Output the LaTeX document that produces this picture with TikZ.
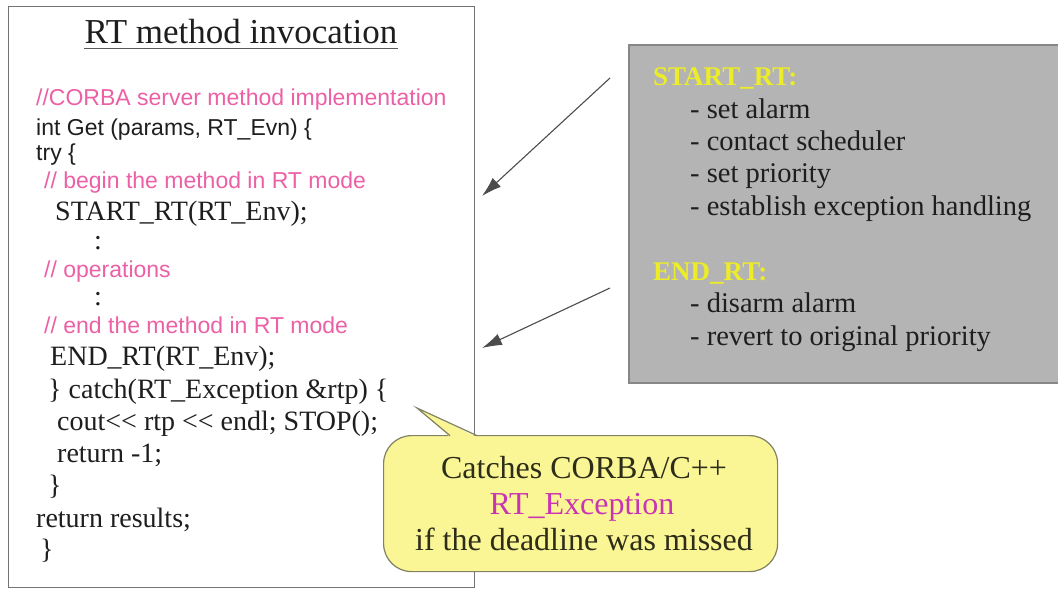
\documentclass[tikz,border=0pt]{standalone}
\usepackage{fontspec}
\setmainfont{Liberation Serif}
\newfontfamily\codesans{Liberation Sans}
\usetikzlibrary{arrows.meta}

\definecolor{cmtpink}{RGB}{236,96,166}
\definecolor{excmag}{RGB}{200,52,178}
\definecolor{headyellow}{RGB}{236,236,40}
\definecolor{panelgray}{RGB}{180,180,180}
\definecolor{panelrule}{RGB}{135,135,135}
\definecolor{bubblefill}{RGB}{250,246,150}
\definecolor{bubblerule}{RGB}{130,130,100}
\definecolor{ink}{RGB}{30,30,30}

\tikzset{
  serifline/.style={anchor=base west, inner sep=0pt, text=ink,
    font=\fontsize{28}{30}\selectfont},
  sansline/.style={anchor=base west, inner sep=0pt, text=ink,
    font=\codesans\fontsize{23}{24}\selectfont},
  cmtline/.style={sansline, text=cmtpink},
  itemline/.style={anchor=base west, inner sep=0pt, text=ink,
    font=\fontsize{28.5}{30}\selectfont},
  headline/.style={anchor=base west, inner sep=0pt, text=headyellow,
    font=\bfseries\fontsize{27}{30}\selectfont},
  bubbletext/.style={anchor=base, inner sep=0pt, text=ink!85!olive,
    font=\fontsize{32}{34}\selectfont},
  ptr/.style={draw=black!70, line width=1.1pt,
    -{Latex[length=20pt,width=12pt]}},
}

\begin{document}
\begin{tikzpicture}[x=1pt,y=-1pt]
\useasboundingbox (0,0) rectangle (1058,590);

% code listing frame
\node[draw=black!55, line width=1.4pt, fill=white, anchor=north west,
      minimum width=466pt, minimum height=581pt, inner sep=0pt] (codebox) at (8,6) {};

% heading
\node[anchor=base, inner sep=0pt, text=ink, font=\fontsize{35}{38}\selectfont]
  (title) at (241,43) {RT method invocation};
\draw[black!65, line width=1.5pt]
  ([yshift=-5.5pt]title.base west) -- ([yshift=-5.5pt]title.base east);

% the listing
\node[cmtline]    (l1)  at (36,105) {//CORBA server method implementation};
\node[sansline]   (l2)  at (36,135) {int Get (params, RT\_Evn) \{};
\node[sansline]   (l3)  at (36,160) {try \{};
\node[cmtline]    (l4)  at (44,188) {// begin the method in RT mode};
\node[serifline]  (l5)  at (55,220) {START\_RT(RT\_Env);};
\node[serifline]  (l6)  at (94,249) {:};
\node[cmtline]    (l7)  at (44,277) {// operations};
\node[serifline]  (l8)  at (94,305) {:};
\node[cmtline]    (l9)  at (44,333) {// end the method in RT mode};
\node[serifline]  (l10) at (50,365) {END\_RT(RT\_Env);};
\node[serifline]  (l11) at (48,398) {\} catch(RT\_Exception \&rtp) \{};
\node[serifline]  (l12) at (57,430) {cout<{}< rtp <{}< endl; STOP();};
\node[serifline]  (l13) at (57,462) {return -1;};
\node[serifline]  (l14) at (48,494) {\}};
\node[serifline]  (l15) at (36,527) {return results;};
\node[serifline]  (l16) at (40,558) {\}};

% explanation panel
\node[draw=panelrule, line width=1.6pt, fill=panelgray, anchor=north west,
      minimum width=440pt, minimum height=338pt, inner sep=0pt] (panel) at (628,44) {};
\node[headline] (h1) at (653,85)  {START\_RT:};
\node[itemline] (i1) at (690,118) {- set alarm};
\node[itemline] (i2) at (690,150) {- contact scheduler};
\node[itemline] (i3) at (690,182) {- set priority};
\node[itemline] (i4) at (690,215) {- establish exception handling};
\node[headline] (h2) at (653,280) {END\_RT:};
\node[itemline] (i5) at (690,312) {- disarm alarm};
\node[itemline] (i6) at (690,345) {- revert to original priority};

% arrows from the panel into the listing
\coordinate (a1from) at (610,78);
\coordinate (a1to)   at (482,196);
\coordinate (a2from) at (610,288);
\coordinate (a2to)   at (482,348);
\draw[ptr] (a1from) -- (a1to);
\draw[ptr] (a2from) -- (a2to);

% speech bubble about the exception
\node[draw=bubblerule, line width=1.2pt, fill=bubblefill, rounded corners=28pt,
      anchor=north west, minimum width=394pt, minimum height=136pt, inner sep=0pt]
  (bubble) at (383,435) {};
\coordinate (tip) at (417,408);
\fill[bubblefill] (450,437) -- (tip) -- (477,437) -- cycle;
\draw[bubblerule, line width=1.2pt, line join=miter] (450,435.6) -- (tip) -- (477,435.6);
\node[bubbletext] (b1) at (584,478) {Catches CORBA/C++};
\node[bubbletext, text=excmag] (b2) at (582,514) {RT\_Exception};
\node[bubbletext] (b3) at (584,550) {if the deadline was missed};
\end{tikzpicture}
\end{document}
